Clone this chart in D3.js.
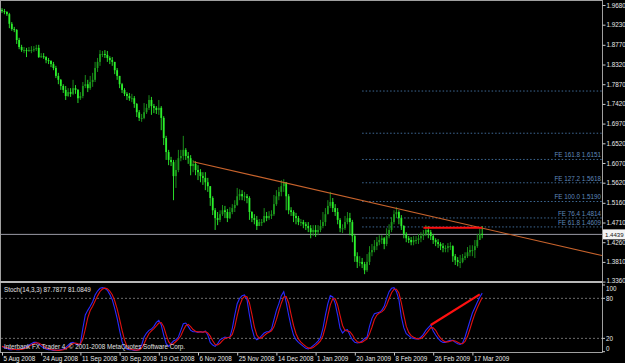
<!DOCTYPE html>
<html>
<head>
<meta charset="utf-8">
<script src="https://cdn.jsdelivr.net/npm/d3@7"></script>
<style>
  html, body { margin: 0; padding: 0; background: #000; }
  svg { display: block; }
  text { font-family: "Liberation Sans", Arial, sans-serif; }
</style>
</head>
<body>
<div id="chart"></div>
<script>
// EURUSD daily, 5 Aug 2008 - Mar 2009
const firstOpen = 1.957;
const closeP = [
  1.954,1.952,1.947,1.925,1.913,1.911,1.888,1.872,1.865,1.865,
  1.863,1.865,1.865,1.867,1.870,1.849,1.851,1.849,1.842,1.840,
  1.833,1.824,1.806,1.797,1.783,1.774,1.760,1.769,1.765,1.778,
  1.774,1.755,1.760,1.783,1.787,1.778,1.792,1.797,1.824,1.838,
  1.856,1.856,1.854,1.847,1.842,1.838,1.819,1.806,1.787,1.774,
  1.765,1.760,1.755,1.755,1.742,1.723,1.710,1.710,1.723,1.733,
  1.751,1.737,1.733,1.728,1.733,1.710,1.664,1.632,1.614,1.609,
  1.577,1.591,1.618,1.623,1.637,1.623,1.618,1.600,1.605,1.591,
  1.586,1.577,1.573,1.563,1.554,1.527,1.499,1.481,1.477,1.490,
  1.499,1.495,1.481,1.495,1.504,1.511,1.531,1.536,1.531,1.531,
  1.527,1.495,1.481,1.477,1.463,1.472,1.472,1.486,1.481,1.486,
  1.490,1.513,1.531,1.541,1.554,1.563,1.531,1.499,1.495,1.486,
  1.481,1.472,1.472,1.467,1.463,1.458,1.449,1.454,1.449,1.454,
  1.463,1.472,1.490,1.509,1.518,1.504,1.495,1.477,1.458,1.458,
  1.472,1.481,1.472,1.440,1.394,1.381,1.381,1.376,1.362,1.381,
  1.403,1.408,1.417,1.426,1.431,1.435,1.422,1.440,1.454,1.472,
  1.490,1.495,1.481,1.463,1.445,1.435,1.431,1.426,1.431,1.431,
  1.435,1.440,1.445,1.454,1.449,1.440,1.431,1.426,1.422,1.417,
  1.413,1.413,1.417,1.417,1.394,1.385,1.381,1.381,1.390,1.394,
  1.403,1.408,1.408,1.417,1.431,1.445,1.4439
];
const highP = [
  1.961,1.959,1.954,1.950,1.929,1.918,1.913,1.893,1.877,1.872,
  1.870,1.872,1.874,1.874,1.877,1.877,1.858,1.858,1.851,1.847,
  1.842,1.838,1.829,1.813,1.799,1.787,1.783,1.778,1.778,1.797,
  1.785,1.776,1.769,1.792,1.808,1.797,1.806,1.813,1.838,1.847,
  1.865,1.863,1.865,1.863,1.851,1.849,1.838,1.824,1.806,1.790,
  1.778,1.769,1.767,1.765,1.760,1.744,1.728,1.719,1.744,1.742,
  1.762,1.758,1.742,1.737,1.751,1.737,1.714,1.669,1.637,1.621,
  1.614,1.614,1.637,1.637,1.669,1.641,1.632,1.625,1.614,1.611,
  1.602,1.593,1.586,1.586,1.573,1.554,1.531,1.504,1.495,1.499,
  1.511,1.509,1.502,1.506,1.513,1.522,1.550,1.547,1.545,1.541,
  1.536,1.531,1.497,1.490,1.486,1.479,1.479,1.504,1.495,1.497,
  1.499,1.534,1.545,1.552,1.568,1.570,1.563,1.536,1.506,1.499,
  1.493,1.486,1.479,1.477,1.472,1.472,1.465,1.465,1.465,1.465,
  1.477,1.495,1.504,1.522,1.541,1.527,1.513,1.504,1.481,1.467,
  1.486,1.495,1.493,1.477,1.445,1.403,1.394,1.390,1.381,1.399,
  1.417,1.422,1.431,1.438,1.442,1.442,1.438,1.458,1.467,1.483,
  1.499,1.506,1.499,1.488,1.465,1.449,1.440,1.438,1.440,1.440,
  1.445,1.449,1.454,1.465,1.463,1.454,1.445,1.435,1.433,1.426,
  1.424,1.419,1.424,1.426,1.419,1.399,1.392,1.397,1.399,1.403,
  1.415,1.419,1.419,1.431,1.445,1.458,1.463
];
const lowP = [
  1.950,1.947,1.943,1.915,1.909,1.906,1.879,1.867,1.861,1.858,
  1.849,1.861,1.858,1.861,1.863,1.847,1.847,1.845,1.835,1.833,
  1.826,1.819,1.801,1.787,1.774,1.767,1.751,1.758,1.758,1.762,
  1.765,1.744,1.751,1.755,1.778,1.769,1.774,1.781,1.792,1.815,
  1.829,1.849,1.847,1.838,1.833,1.829,1.810,1.797,1.778,1.767,
  1.760,1.751,1.749,1.746,1.733,1.712,1.703,1.701,1.707,1.719,
  1.728,1.717,1.721,1.719,1.717,1.682,1.648,1.614,1.602,1.600,
  1.522,1.550,1.586,1.611,1.614,1.614,1.605,1.579,1.586,1.579,
  1.568,1.563,1.557,1.545,1.541,1.509,1.488,1.454,1.465,1.472,
  1.486,1.481,1.472,1.479,1.490,1.495,1.509,1.522,1.522,1.520,
  1.515,1.477,1.472,1.467,1.454,1.463,1.463,1.470,1.474,1.477,
  1.479,1.486,1.509,1.522,1.531,1.541,1.499,1.490,1.486,1.472,
  1.467,1.465,1.463,1.458,1.454,1.449,1.435,1.440,1.438,1.442,
  1.449,1.458,1.463,1.490,1.504,1.495,1.486,1.467,1.449,1.447,
  1.454,1.467,1.442,1.426,1.381,1.367,1.371,1.367,1.353,1.358,
  1.374,1.394,1.403,1.408,1.419,1.422,1.410,1.417,1.435,1.449,
  1.467,1.481,1.467,1.454,1.435,1.426,1.424,1.419,1.419,1.422,
  1.422,1.426,1.431,1.440,1.435,1.431,1.422,1.417,1.413,1.408,
  1.403,1.403,1.403,1.408,1.381,1.374,1.371,1.367,1.378,1.385,
  1.390,1.394,1.394,1.390,1.413,1.431,1.435
];
// Stoch(14,3,3): main and signal
const stochMain = [
  8,6,5,3,3,4,3,3,4,6,
  8,10,12,14,14,11,8,6,4,3,
  3,2,2,2,3,4,6,10,13,14,
  12,10,12,35,55,62,68,75,85,91,
  95,96,95,92,86,78,65,50,32,15,
  6,4,3,3,2,2,4,10,22,28,
  32,34,38,44,47,40,25,12,8,12,
  16,18,22,32,42,43,38,32,30,30,
  29,30,29,31,25,14,10,8,12,18,
  20,22,21,22,35,55,72,80,84,85,
  78,55,35,22,18,20,24,28,30,30,
  34,48,62,72,84,90,74,55,38,25,
  18,14,11,8,5,4,6,9,12,16,
  21,35,55,72,84,82,72,55,35,28,
  32,33,25,18,14,13,14,16,20,22,
  38,50,57,58,59,62,68,80,90,95,
  96,90,78,52,36,27,24,21,20,19,
  19,22,26,32,36,40,31,25,20,16,
  14,14,16,17,17,14,12,11,13,22,
  34,46,58,66,74,81.5,87.7877
];
const stochSignal = [
  8,7,6.3,4.7,3.7,3.3,3.3,3.3,3.3,4.3,
  6,8,10,12,13.3,13,11,8.3,6,4.3,
  3.3,2.7,2.3,2,2.3,3,4.3,6.7,9.7,12.3,
  13,12,11.3,19,34,50.7,61.7,68.3,76,83.7,
  90.3,94,95.3,94.3,91,85.3,76.3,64.3,49,32.3,
  17.7,8.3,4.3,3.3,2.7,2.3,2.7,5.3,12,20,
  27.3,31.3,34.7,38.7,43,43.7,37.3,25.7,15,10.7,
  12,15.3,18.7,24,32,39,41,37.7,33.3,30.7,
  29.7,29.7,29.3,30,28.3,23.3,16.3,10.7,10,12.7,
  16.7,20,21,21.7,26,37.3,54,69,78.7,83,
  82.3,72.7,56,37.3,25,20,20.7,24,27.3,29.3,
  31.3,37.3,48,60.7,72.7,82,82.7,73,55.7,39.3,
  27,19,14.3,11,8,5.7,5,6.3,9,12.3,
  16.3,24,37,54,70.3,79.3,79.3,69.7,54,39.3,
  31.7,31,30,25.3,19,15,13.7,14.3,16.7,19.3,
  26.7,36.7,48.3,55,58,59.7,63,70,79.3,88.3,
  93.7,93.7,88,73.3,55.3,38.3,29,24,21.7,20,
  19.3,20,22.3,26.7,31.3,36,35.7,32,25.3,20.3,
  16.7,14.7,14.7,15.7,16.7,16,14.3,12.3,12,15.3,
  23,34,46,56.7,66,73.8,81.0849
];

const priceTicks = ["1.9680","1.9230","1.8770","1.8320","1.7870","1.7420","1.6970","1.6520",
  "1.6070","1.5620","1.5160","1.4710","1.4260","1.3810","1.3360"];
const stochTicks = [100, 80, 20, 0];
const dateTickBars = [0,16,32,48,64,80,96,112,128,144,160,176,192];
const dateLabels = ["5 Aug 2008","24 Aug 2008","11 Sep 2008","30 Sep 2008","19 Oct 2008","6 Nov 2008",
  "25 Nov 2008","14 Dec 2008","1 Jan 2009","20 Jan 2009","8 Feb 2009","26 Feb 2009","17 Mar 2009"];

// fibo expansion levels (the two top ones have no visible label)
const feLevels = [
  {name: "", value: 1.7714},
  {name: "", value: 1.6750},
  {name: "FE 161.8", value: 1.6151},
  {name: "FE 127.2", value: 1.5618},
  {name: "FE 100.0", value: 1.5190},
  {name: "FE 76.4", value: 1.4814},
  {name: "FE 61.8", value: 1.4609}
];
const feStartBar = 147;
const trendPts = [{bar: 78, price: 1.610}, {bar: 160, price: 1.5046}];
const resistLine = {from: 172, to: 196, price: 1.459};
const stochDiv = [{bar: 175, value: 40}, {bar: 195, value: 86}];
const lastPrice = 1.4439;

const W = 625, H = 363;
const axisX = 602, mainTop = 1, mainBottom = 281, subTop = 283, subBottom = 352;

const svg = d3.select('#chart').append('svg')
  .attr('width', W).attr('height', H);
svg.append('rect').attr('width', W).attr('height', H).attr('fill', '#000');

const x = d3.scaleLinear().domain([0, 196]).range([2, 482.2]);
const yP = d3.scaleLinear().domain([1.336, 1.968]).range([281.6, 5]);
const yS = d3.scaleLinear().domain([0, 100]).range([351.7, 285]);

// clip regions
const defs = svg.append('defs');
defs.append('clipPath').attr('id', 'clipMain').append('rect')
  .attr('x', 1).attr('y', mainTop).attr('width', axisX - 1).attr('height', mainBottom - mainTop);
defs.append('clipPath').attr('id', 'clipSub').append('rect')
  .attr('x', 1).attr('y', subTop).attr('width', axisX - 1).attr('height', subBottom - subTop);

const main = svg.append('g').attr('clip-path', 'url(#clipMain)');
const sub = svg.append('g').attr('clip-path', 'url(#clipSub)');

// fibo dotted lines + labels
main.selectAll('.fe').data(feLevels).enter().append('line')
  .attr('x1', x(feStartBar)).attr('x2', axisX)
  .attr('y1', d => yP(d.value)).attr('y2', d => yP(d.value))
  .attr('stroke', '#3f6a96').attr('stroke-width', 1)
  .attr('stroke-dasharray', '1.5,2');
main.selectAll('.fel').data(feLevels.filter(d => d.name)).enter().append('text')
  .attr('x', axisX - 1).attr('y', d => yP(d.value) - 2.2)
  .attr('text-anchor', 'end').attr('font-size', 6.3)
  .attr('fill', '#5f88bb')
  .text(d => d.name + ' ' + d.value.toFixed(4));

// current price line
main.append('line')
  .attr('x1', 1).attr('x2', axisX)
  .attr('y1', yP(lastPrice)).attr('y2', yP(lastPrice))
  .attr('stroke', '#9a9aa6').attr('stroke-width', 1);

// candles
const bars = closeP.map((c, i) => {
  const o = i === 0 ? firstOpen : closeP[i - 1];
  return {i, o, c, h: Math.max(highP[i], o, c), l: Math.min(lowP[i], o, c)};
});
const cg = main.append('g');
cg.selectAll('.wick').data(bars).enter().append('line')
  .attr('x1', d => x(d.i)).attr('x2', d => x(d.i))
  .attr('y1', d => yP(d.h)).attr('y2', d => yP(d.l))
  .attr('stroke', d => d.c >= d.o ? '#1c9a1c' : '#2cf02c').attr('stroke-width', 0.9);
cg.selectAll('.body').data(bars).enter().append('rect')
  .attr('x', d => x(d.i) - 0.9).attr('width', 1.8)
  .attr('y', d => yP(Math.max(d.o, d.c)))
  .attr('height', d => Math.max(1, Math.abs(yP(d.o) - yP(d.c))))
  .attr('fill', d => d.c >= d.o ? '#1c9a1c' : '#2cf02c');

// trend line (ray to the right)
const slope = (trendPts[1].price - trendPts[0].price) / (trendPts[1].bar - trendPts[0].bar);
const endBar = x.invert(axisX);
main.append('line')
  .attr('x1', x(trendPts[0].bar)).attr('y1', yP(trendPts[0].price))
  .attr('x2', x(endBar)).attr('y2', yP(trendPts[0].price + slope * (endBar - trendPts[0].bar)))
  .attr('stroke', '#c8632c').attr('stroke-width', 1.1);

// red resistance line
main.append('line')
  .attr('x1', x(resistLine.from)).attr('x2', x(resistLine.to))
  .attr('y1', yP(resistLine.price)).attr('y2', yP(resistLine.price))
  .attr('stroke', '#ff1010').attr('stroke-width', 2);

// stochastic panel
sub.selectAll('.lvl').data([80, 20]).enter().append('line')
  .attr('x1', 1).attr('x2', axisX)
  .attr('y1', d => yS(d)).attr('y2', d => yS(d))
  .attr('stroke', '#8a8a8a').attr('stroke-width', 0.8)
  .attr('stroke-dasharray', '2,2');
const lineS = d3.line().x((d, i) => x(i)).y(d => yS(d)).curve(d3.curveLinear);
sub.append('path').datum(stochMain).attr('d', lineS)
  .attr('fill', 'none').attr('stroke', '#2a2aff').attr('stroke-width', 1.1);
sub.append('path').datum(stochSignal).attr('d', lineS)
  .attr('fill', 'none').attr('stroke', '#e01010').attr('stroke-width', 1.1);
sub.append('line')
  .attr('x1', x(stochDiv[0].bar)).attr('y1', yS(stochDiv[0].value))
  .attr('x2', x(stochDiv[1].bar)).attr('y2', yS(stochDiv[1].value))
  .attr('stroke', '#ff1010').attr('stroke-width', 2.2);

// frame
const frame = svg.append('g').attr('stroke', '#a0a0a0').attr('fill', 'none');
frame.append('line').attr('x1', 0.5).attr('x2', 0.5).attr('y1', 0).attr('y2', subBottom + 0.5);
frame.append('line').attr('x1', 0).attr('x2', axisX).attr('y1', 0.5).attr('y2', 0.5);
frame.append('line').attr('x1', 0).attr('x2', axisX).attr('y1', 282).attr('y2', 282).attr('stroke-width', 2).attr('stroke', '#b8b8b8');

// price axis
const pAxis = svg.append('g').attr('transform', `translate(${axisX + 0.5},0)`)
  .call(d3.axisRight(yP).tickValues(priceTicks.map(Number)).tickSize(3).tickPadding(1)
    .tickFormat(d => d.toFixed(4)));
pAxis.select('.domain').attr('stroke', '#a0a0a0').attr('d', `M0,0V${subBottom + 0.5}`);
pAxis.selectAll('.tick line').attr('stroke', '#c8c8c8');
pAxis.selectAll('.tick text').attr('fill', '#e8e8e8').attr('font-size', 6.3)
  .attr('font-family', '"Liberation Sans", Arial, sans-serif');
// keep the bottom price label clear of the stoch "100" label
pAxis.selectAll('.tick text').filter(d => d < 1.34).attr('dy', '0.1em');

// last price marker
const lp = svg.append('g').attr('transform', `translate(${axisX + 1},${yP(lastPrice)})`);
lp.append('rect').attr('x', 0).attr('y', -5).attr('width', 22).attr('height', 10).attr('fill', '#f4f4f4');
lp.append('text').attr('x', 2).attr('y', 2.3).attr('font-size', 6.1).attr('fill', '#202020')
  .text(lastPrice.toFixed(4));

// stoch axis labels
const sAxis = svg.append('g');
sAxis.selectAll('text').data(stochTicks).enter().append('text')
  .attr('x', axisX + 4)
  .attr('y', d => yS(d) + (d === 100 ? 6 : d === 0 ? -0.5 : 2.3))
  .attr('font-size', 6.3).attr('fill', '#e8e8e8').text(d => d);
sAxis.selectAll('line').data(stochTicks).enter().append('line')
  .attr('x1', axisX).attr('x2', axisX + 3)
  .attr('y1', d => yS(d)).attr('y2', d => yS(d)).attr('stroke', '#c8c8c8');

// time axis
const tAxis = svg.append('g').attr('transform', `translate(0,${subBottom + 0.5})`)
  .call(d3.axisBottom(x).tickValues(dateTickBars).tickSize(3).tickPadding(1)
    .tickFormat((d, i) => dateLabels[i]));
tAxis.select('.domain').attr('stroke', '#a0a0a0').attr('d', `M0,0H${axisX + 0.5}`);
tAxis.selectAll('.tick line').attr('stroke', '#c8c8c8');
tAxis.selectAll('.tick text').attr('fill', '#e8e8e8').attr('font-size', 6.3)
  .attr('text-anchor', 'start').attr('dx', 1)
  .attr('font-family', '"Liberation Sans", Arial, sans-serif');

// captions
svg.append('text').attr('x', 4).attr('y', 291.5).attr('font-size', 6.3).attr('fill', '#e0e0e0')
  .text('Stoch(14,3,3) ' + stochMain[stochMain.length - 1].toFixed(4) + ' ' + stochSignal[stochSignal.length - 1].toFixed(4));
svg.append('text').attr('x', 4).attr('y', 349).attr('font-size', 6.3).attr('fill', '#e0e0e0')
  .text('Interbank FX Trader 4, \u00a9 2001-2008 MetaQuotes Software Corp.');
</script>
</body>
</html>
